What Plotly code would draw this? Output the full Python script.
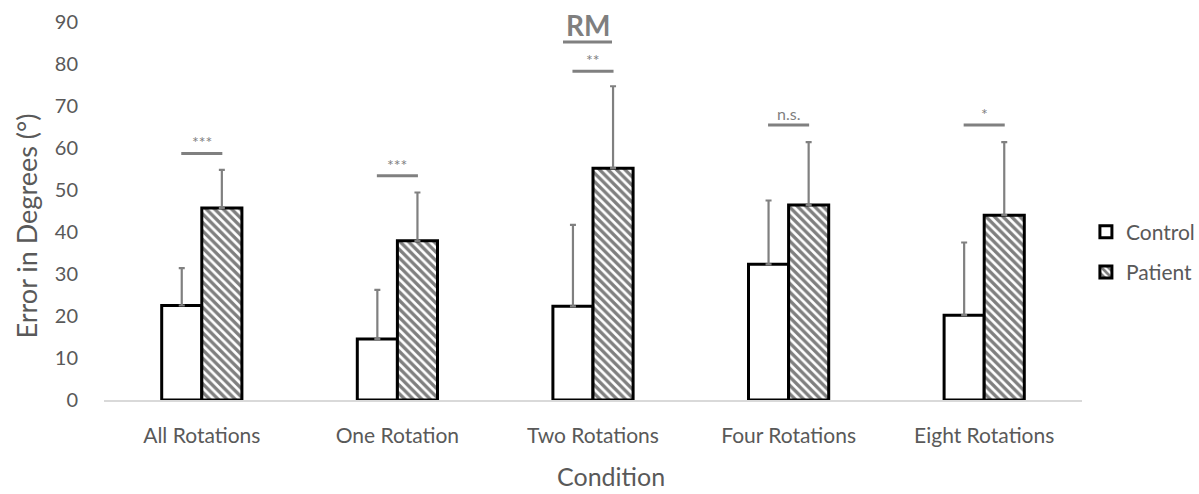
import plotly.graph_objects as go

categories = ["All Rotations", "One Rotation", "Two Rotations", "Four Rotations", "Eight Rotations"]
control_mean = [22.5, 14.5, 22.3, 32.3, 20.2]
control_err = [8.9, 11.7, 19.4, 15.2, 17.3]
patient_mean = [45.7, 37.9, 55.2, 46.4, 44.0]
patient_err = [9.1, 11.5, 19.5, 15.0, 17.4]
sig_heights = [58.7, 53.4, 78.3, 65.5, 65.5]
sig_labels = ["***", "***", "**", "n.s.", "*"]

FONT = "Lato"
GREY = "#595959"

fig = go.Figure()
fig.add_trace(go.Bar(
    name="Control", x=categories, y=control_mean, legendgroup="c",
    marker=dict(color="white", line=dict(color="black", width=3)),
    error_y=dict(type="data", symmetric=False, array=control_err,
                 arrayminus=[0] * len(control_err), color="#808080", thickness=2.2, width=3),
))
fig.add_trace(go.Bar(
    name="Patient", x=categories, y=patient_mean, legendgroup="p",
    marker=dict(color="white", line=dict(color="black", width=3),
                pattern=dict(shape="\\", fgcolor="black", bgcolor="white", size=6, solidity=0.55)),
    error_y=dict(type="data", symmetric=False, array=patient_err,
                 arrayminus=[0] * len(patient_err), color="#808080", thickness=2.2, width=3),
))

for i, (h, lab) in enumerate(zip(sig_heights, sig_labels)):
    fig.add_shape(type="line", xref="x", yref="y", x0=i - 0.105, x1=i + 0.105, y0=h, y1=h,
                  line=dict(color="#808080", width=3))
    fig.add_annotation(x=i, y=h, xref="x", yref="y", text=lab, showarrow=False,
                       yanchor="bottom", yshift=0, font=dict(family=FONT, size=16, color="#7f7f7f"))

# title
fig.add_annotation(x=(587.5 - 104) / 978, y=(400 - 25) / 378, xref="paper", yref="paper", text="<b>RM</b>",
                   showarrow=False, xanchor="center", yanchor="middle",
                   font=dict(family=FONT, size=28, color="#7f7f7f"))
fig.add_shape(type="line", xref="paper", yref="paper", x0=(563 - 104) / 978, x1=(612 - 104) / 978,
              y0=(400 - 42) / 378, y1=(400 - 42) / 378, line=dict(color="#808080", width=3))
# axis titles
fig.add_annotation(x=(26 - 104) / 978, y=(400 - 226.5) / 378, xref="paper", yref="paper",
                   text="Error in Degrees (°)", textangle=-90, showarrow=False,
                   xanchor="center", yanchor="middle", font=dict(family=FONT, size=27, color=GREY))
fig.add_annotation(x=(611 - 104) / 978, y=(400 - 493) / 378, xref="paper", yref="paper",
                   text="Condition", showarrow=False,
                   xanchor="center", yanchor="bottom", font=dict(family=FONT, size=25, color=GREY))

fig.update_layout(
    width=1199, height=494,
    margin=dict(l=104, r=117, t=22, b=94, autoexpand=False),
    paper_bgcolor="white", plot_bgcolor="white",
    barmode="group", bargap=0.59, bargroupgap=0,
    font=dict(family=FONT, color=GREY),
    showlegend=True,
    legend=dict(x=1.004, y=(400 - 252) / 378, xanchor="left", yanchor="middle",
                traceorder="grouped", tracegroupgap=10,
                font=dict(family=FONT, size=21, color=GREY), bgcolor="rgba(0,0,0,0)"),
    xaxis=dict(showline=True, linecolor="#d9d9d9", linewidth=1.5, showgrid=False,
               ticks="outside", ticklen=16, tickcolor="rgba(0,0,0,0)",
               tickfont=dict(family=FONT, size=21, color=GREY)),
    yaxis=dict(range=[0, 90], dtick=10, showgrid=False, showline=False, zeroline=False,
               ticks="outside", ticklen=21, tickcolor="rgba(0,0,0,0)",
               tickfont=dict(family=FONT, size=20, color=GREY)),
)

fig.write_html("out.html")
